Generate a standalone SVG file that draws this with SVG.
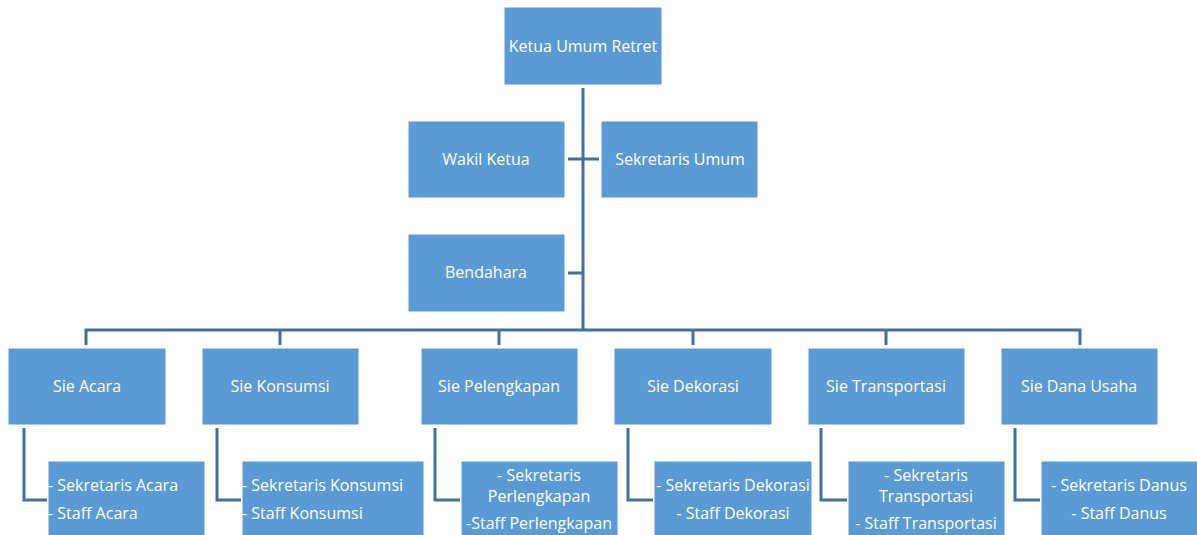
<svg xmlns="http://www.w3.org/2000/svg" width="1197" height="535" viewBox="0 0 1197 535">
<style>
.box{fill:#5B9BD5;stroke:#ffffff;stroke-width:1}
.t{font-family:"Open Sans","Liberation Sans",sans-serif;font-size:16px;fill:#ffffff;text-anchor:middle}
.l{text-anchor:start}
.c{fill:none;stroke:#41719C;stroke-width:3}
</style>
<rect width="1197" height="535" fill="#ffffff"/>
<g id="connectors">
<path class="c" d="M583,88 V330"/>
<path class="c" d="M568,159 H599"/>
<path class="c" d="M568,273 H583"/>
<path class="c" d="M86,345 V330 H1080 V345"/>
<path class="c" d="M280,330 V345 M499,330 V345 M693,330 V345 M886,330 V345"/>
<path class="c" d="M24,428 V500 H47"/>
<path class="c" d="M217,428 V500 H241"/>
<path class="c" d="M435,428 V500 H460"/>
<path class="c" d="M628,428 V500 H653"/>
<path class="c" d="M821,428 V500 H847"/>
<path class="c" d="M1015,428 V500 H1040"/>
</g>
<g id="ketua"><rect class="box" x="504" y="7" width="158" height="78"/><text class="t" x="583" y="52">Ketua Umum Retret</text></g>
<g id="wakil"><rect class="box" x="408" y="121" width="157" height="77"/><text class="t" x="486" y="165">Wakil Ketua</text></g>
<g id="sekretaris"><rect class="box" x="601" y="121" width="157" height="77"/><text class="t" x="680" y="165">Sekretaris Umum</text></g>
<g id="bendahara"><rect class="box" x="408" y="234" width="157" height="78"/><text class="t" x="486" y="278">Bendahara</text></g>
<g id="acara"><rect class="box" x="8" y="348" width="158" height="77"/><text class="t" x="87" y="392">Sie Acara</text></g>
<g id="konsumsi"><rect class="box" x="202" y="348" width="157" height="77"/><text class="t" x="280" y="392">Sie Konsumsi</text></g>
<g id="pelengkapan"><rect class="box" x="421" y="348" width="157" height="77"/><text class="t" x="499" y="392">Sie Pelengkapan</text></g>
<g id="dekorasi"><rect class="box" x="614" y="348" width="158" height="77"/><text class="t" x="693" y="392">Sie Dekorasi</text></g>
<g id="transportasi"><rect class="box" x="808" y="348" width="157" height="77"/><text class="t" x="886" y="392">Sie Transportasi</text></g>
<g id="danus"><rect class="box" x="1001" y="348" width="157" height="77"/><text class="t" x="1079" y="392">Sie Dana Usaha</text></g>
<g id="sub-acara"><rect class="box" x="48" y="461" width="157" height="77"/><text class="t l" x="48" y="491">- Sekretaris Acara</text><text class="t l" x="48" y="519">- Staff Acara</text></g>
<g id="sub-konsumsi"><rect class="box" x="242" y="461" width="182" height="77"/><text class="t l" x="242" y="491">- Sekretaris Konsumsi</text><text class="t l" x="242" y="519">- Staff Konsumsi</text></g>
<g id="sub-pelengkapan"><rect class="box" x="461" y="461" width="157" height="77"/><text class="t" x="539" y="481">- Sekretaris</text><text class="t" x="539" y="502">Perlengkapan</text><text class="t" x="539" y="529">-Staff Perlengkapan</text></g>
<g id="sub-dekorasi"><rect class="box" x="654" y="461" width="158" height="77"/><text class="t" x="733" y="491">- Sekretaris Dekorasi</text><text class="t" x="733" y="519">- Staff Dekorasi</text></g>
<g id="sub-transportasi"><rect class="box" x="848" y="461" width="157" height="77"/><text class="t" x="926" y="481">- Sekretaris</text><text class="t" x="926" y="502">Transportasi</text><text class="t" x="926" y="529">- Staff Transportasi</text></g>
<g id="sub-danus"><rect class="box" x="1041" y="461" width="157" height="77"/><text class="t" x="1119" y="491">- Sekretaris Danus</text><text class="t" x="1119" y="519">- Staff Danus</text></g>
</svg>
